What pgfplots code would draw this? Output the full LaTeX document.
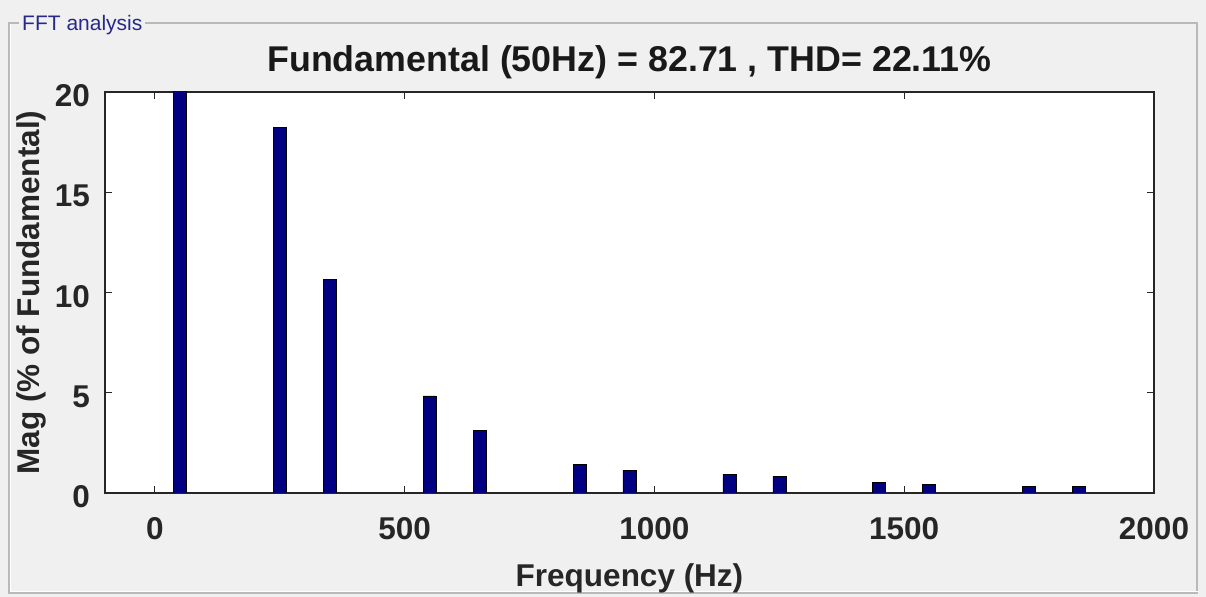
\documentclass[border=0pt]{standalone}
\usepackage{pgfplots}
\pgfplotsset{compat=1.18}
\usepackage{fontspec}
\setmainfont{Liberation Sans}
\definecolor{panelbg}{RGB}{240,240,240}
\definecolor{barfill}{RGB}{0,0,128}
\definecolor{paneltitle}{RGB}{40,40,140}
\definecolor{axcol}{RGB}{38,38,38}
\begin{document}
\begin{tikzpicture}
\useasboundingbox (0bp,0bp) rectangle (1206bp,597bp);
\fill[panelbg] (0bp,0bp) rectangle (1206bp,597bp);
% etched panel frame
\draw[line width=1.2bp, gray!55] (9bp,574bp) rectangle (1197bp,4bp);
\draw[line width=1bp, white] (10.2bp,572.8bp) -- (10.2bp,5.2bp) -- (1198.2bp,5.2bp);
\node[fill=panelbg, anchor=base west, inner sep=3bp, text=paneltitle,
      font=\fontsize{21bp}{24bp}\selectfont] at (19bp,566bp) {FFT analysis};
\begin{axis}[
  at={(105bp,104bp)}, anchor=south west,
  width=1049bp, height=401bp, scale only axis,
  xmin=-100, xmax=2000, ymin=0, ymax=20,
  ybar, bar width=13bp,
  axis background/.style={fill=white},
  axis line style={line width=1.2bp, axcol},
  xtick={0,500,1000,1500,2000},
  ytick={0,5,10,15,20},
  tick align=inside, tick pos=both,
  major tick length=7bp,
  tick style={line width=1bp, axcol},
  /pgf/number format/assume math mode=true,
  /pgf/number format/1000 sep={},
  ticklabel style={font=\bfseries\fontsize{31.5bp}{36bp}\selectfont, text=black!85, inner sep=0pt},
  xticklabel style={anchor=base, yshift=-46bp},
  yticklabel style={anchor=east, xshift=-15bp, yshift=-4bp},
  title={Fundamental (50Hz) = 82.71 , THD= 22.11\%},
  title style={at={(axis description cs:0.5,1.0374)}, anchor=base, inner sep=0pt,
               font=\bfseries\fontsize{35.8bp}{40bp}\selectfont, text=black!90},
  xlabel={Frequency (Hz)},
  xlabel style={at={(axis description cs:0.5,-0.2344)}, anchor=base, inner sep=0pt,
                font=\bfseries\fontsize{31.5bp}{36bp}\selectfont, text=black!85},
  ylabel={Mag (\% of Fundamental)},
  ylabel style={at={(axis description cs:-0.06196,0.5)}, anchor=base, inner sep=0pt,
                font=\bfseries\fontsize{31.5bp}{36bp}\selectfont, text=black!85},
]
\addplot[fill=barfill, draw=black, line width=0.6bp] coordinates {
  (50,100) (250,18.25) (350,10.66) (550,4.84) (650,3.14)
  (850,1.43) (950,1.13) (1150,0.93) (1250,0.83)
  (1450,0.53) (1550,0.43) (1750,0.33) (1850,0.33)
};
\end{axis}
\end{tikzpicture}
\end{document}
